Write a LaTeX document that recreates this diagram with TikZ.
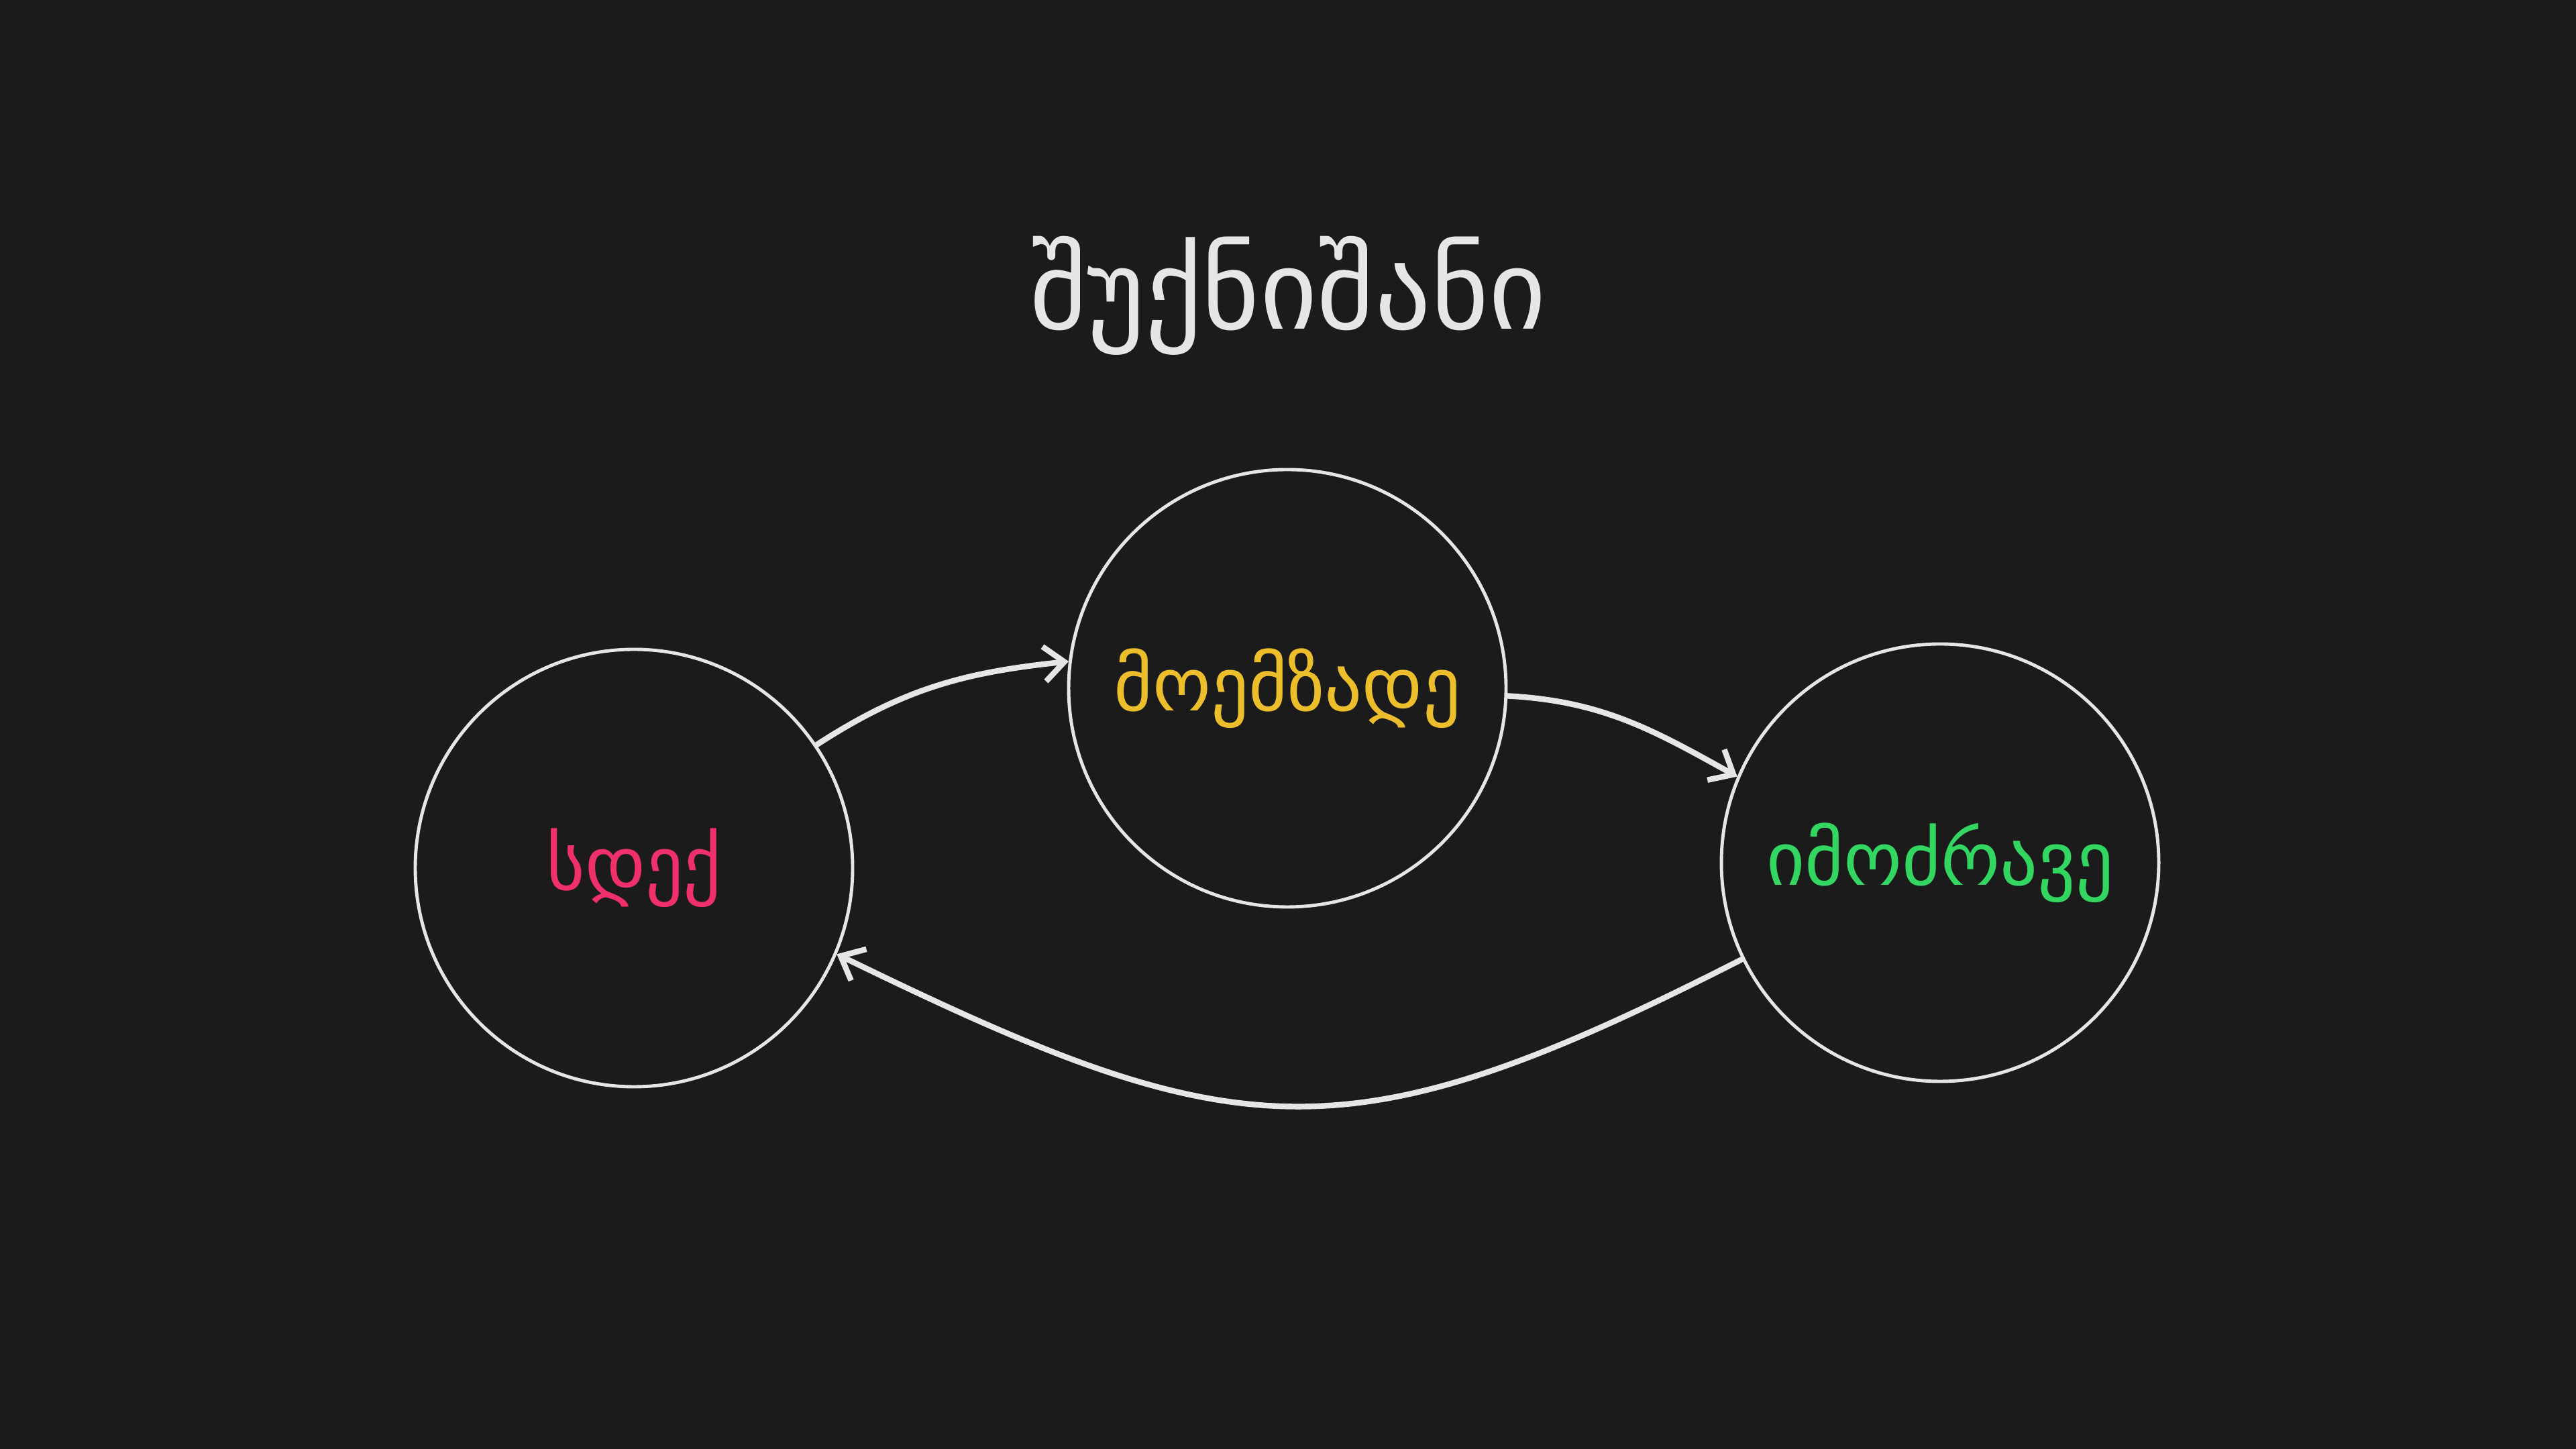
\documentclass[tikz,border=0pt]{standalone}
\usepackage{fontspec}
\newfontfamily\geo{DejaVu Sans}
\usetikzlibrary{arrows.meta}
\definecolor{bg}{HTML}{1B1B1B}
\definecolor{fg}{HTML}{E6E6E6}
\definecolor{stopc}{HTML}{F0306A}
\definecolor{readyc}{HTML}{ECBE2C}
\definecolor{goc}{HTML}{32D660}
\tikzset{
    light/.style = {circle, draw = fg, line width = 1.4pt, minimum size = 6.52cm, inner sep = 0pt, font = \geo\fontsize{31.5}{38}\selectfont},
    trans/.style = {draw = fg, line width = 2.4pt, line cap = round, -{Straight Barb[length = 0.3cm, width = 0.52cm, line width = 2.4pt]}}
}
\begin{document}
\begin{tikzpicture}
    \fill[bg] (0, 0) rectangle (38.4, 21.6);
    \useasboundingbox (0, 0) rectangle (38.4, 21.6);
    \node[text = fg, font = \geo\fontsize{47}{56}\selectfont] (title) at (19.2, 17.19) {შუქნიშანი};
    \node[light, text = stopc] (stop) at (9.45, 8.66) {სდექ};
    \node[light, text = readyc] (ready) at (19.19, 11.34) {მოემზადე};
    \node[light, text = goc] (go) at (28.92, 8.74) {იმოძრავე};
    \draw[trans] (stop.34) to[out = 33, in = 186] (ready.173);
    \draw[trans] (ready.-2) to[out = -3, in = 151] (go.157);
    \draw[trans] (go.206) to[out = 207, in = -26, looseness = 1.26] (stop.-23);
\end{tikzpicture}
\end{document}
